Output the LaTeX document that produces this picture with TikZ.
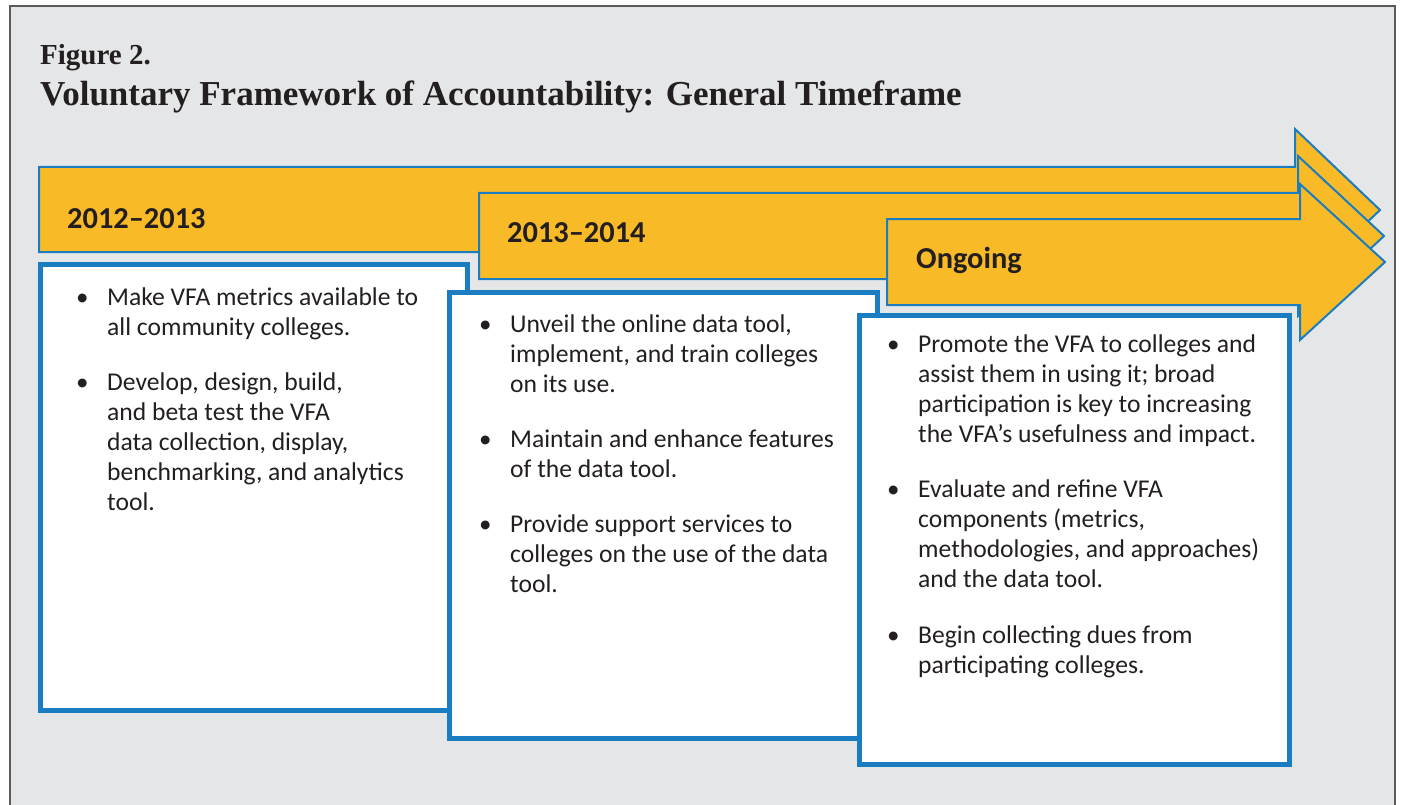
\documentclass[tikz,border=0pt]{standalone}
\usepackage{fontspec}
\setmainfont{Carlito}
\newfontfamily\headserif{Liberation Serif}
\definecolor{panelgray}{HTML}{E5E6E8}
\definecolor{framegray}{HTML}{5A5A5C}
\definecolor{arrowgold}{HTML}{F9BA27}
\definecolor{edgeblue}{HTML}{1B7DC1}
\definecolor{inkdark}{HTML}{231F20}
\begin{document}
\begin{tikzpicture}[x=1pt,y=-1pt,
  phase/.style={fill=arrowgold,draw=edgeblue,line width=2pt,line join=miter},
  card/.style={fill=white,draw=edgeblue,line width=5pt},
  yearlabel/.style={anchor=base west,inner sep=0pt,text=inkdark,font=\fontsize{30.4}{36}\selectfont\bfseries},
  dot/.style={anchor=base west,inner sep=0pt,text=inkdark,font=\fontsize{25}{30}\selectfont},
  itemtext/.style={anchor=base west,inner sep=0pt,text=inkdark,font=\fontsize{25.6}{30.2}\selectfont},
]
\useasboundingbox (0,0) rectangle (1402,805);
\fill[white] (0,0) rectangle (1402,805);
% panel with its frame on top, left and right
\fill[panelgray] (10,6) rectangle (1395,806);
\draw[framegray,line width=2pt] (10,810) -- (10,6) -- (1395,6) -- (1395,810);

% title
\node[anchor=base west,inner sep=0pt,text=inkdark,font=\headserif\fontsize{29}{36}\selectfont\bfseries] (fig) at (40,65) {Figure 2.};
\node[anchor=base west,inner sep=0pt,text=inkdark,font=\headserif\fontsize{35}{42}\selectfont\bfseries] (title) at (40,106) {Voluntary Framework of Accountability: General Timeframe};

% three overlapping phase arrows
\draw[phase] (39,167) -- (1295,167) -- (1295,129) -- (1380,210) -- (1295,291) -- (1295,252) -- (39,252) -- cycle;
\draw[phase] (479,193) -- (1298,193) -- (1298,156) -- (1384,236) -- (1298,316) -- (1298,279) -- (479,279) -- cycle;
\draw[phase] (887,219) -- (1300,219) -- (1300,184) -- (1385,262) -- (1300,340) -- (1300,305) -- (887,305) -- cycle;

\node[yearlabel] (y1) at (67,228) {2012–2013};
\node[yearlabel] (y2) at (507,242) {2013–2014};
\node[yearlabel] (y3) at (916,268) {Ongoing};

% content cards
\draw[card] (40.5,264.5) rectangle (467.5,710.5);
\draw[card] (449.5,292.5) rectangle (877.5,738.5);
\draw[card] (859.5,315.5) rectangle (1289.5,764.5);

% card 1
\node[dot] (d11) at (76,305) {•};
\node[itemtext] (t11) at (107,305) {\parbox[t]{350pt}{Make VFA metrics available to\\all community colleges.}};
\node[dot] (d12) at (76,390) {•};
\node[itemtext] (t12) at (107,390) {\parbox[t]{350pt}{Develop, design, build,\\and beta test the VFA\\data collection, display,\\benchmarking, and analytics\\tool.}};

% card 2
\node[dot] (d21) at (479,332) {•};
\node[itemtext] (t21) at (510,332) {\parbox[t]{350pt}{Unveil the online data tool,\\implement, and train colleges\\on its use.}};
\node[dot] (d22) at (479,447) {•};
\node[itemtext] (t22) at (510,447) {\parbox[t]{350pt}{Maintain and enhance features\\of the data tool.}};
\node[dot] (d23) at (479,532) {•};
\node[itemtext] (t23) at (510,532) {\parbox[t]{350pt}{Provide support services to\\colleges on the use of the data\\tool.}};

% card 3
\node[dot] (d31) at (887,352) {•};
\node[itemtext] (t31) at (918,352) {\parbox[t]{360pt}{Promote the VFA to colleges and\\assist them in using it; broad\\participation is key to increasing\\the VFA’s usefulness and impact.}};
\node[dot] (d32) at (887,497) {•};
\node[itemtext] (t32) at (918,497) {\parbox[t]{360pt}{Evaluate and refine VFA\\components (metrics,\\methodologies, and approaches)\\and the data tool.}};
\node[dot] (d33) at (887,643) {•};
\node[itemtext] (t33) at (918,643) {\parbox[t]{360pt}{Begin collecting dues from\\participating colleges.}};
\end{tikzpicture}
\end{document}
